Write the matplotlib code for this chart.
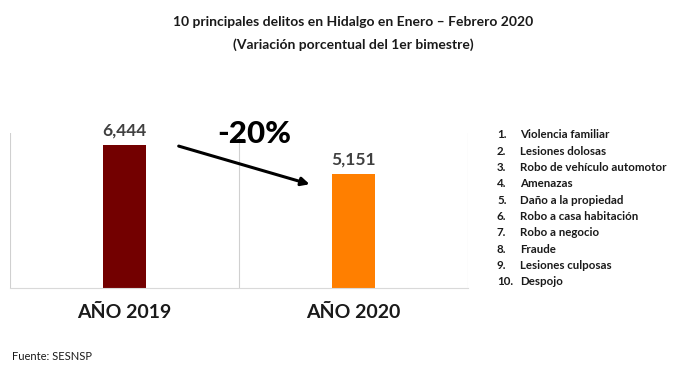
import matplotlib
matplotlib.use("Agg")
import matplotlib.pyplot as plt

anios = ["AÑO 2019", "AÑO 2020"]
totales = [6444, 5151]
colores = ["#730000", "#FF7F00"]
variacion = "-20%"
delitos = ["Violencia familiar", "Lesiones dolosas", "Robo de vehículo automotor",
           "Amenazas", "Daño a la propiedad", "Robo a casa habitación",
           "Robo a negocio", "Fraude", "Lesiones culposas", "Despojo"]

plt.rcParams['font.family'] = ['Lato', 'DejaVu Sans']

fig = plt.figure(figsize=(6.78, 3.81), dpi=100)
ax = fig.add_axes([10/678, 93/381, 458/678, 155/381])

x = range(len(anios))
ax.bar(x, totales, width=0.19, color=colores)
ax.set_xlim(-0.5, len(anios) - 0.5)
ax.set_ylim(0, 7000)

# separadores de categoria estilo excel
for xv in [-0.5, 0.5, 1.5]:
    ax.axvline(xv, color="#d0d0d0", lw=0.8)
for s in ["top", "left", "right"]:
    ax.spines[s].set_visible(False)
ax.spines["bottom"].set_color("#d9d9d9")
ax.set_yticks([])
ax.set_xticks([])

for i, v in enumerate(totales):
    ax.text(i, v + 300, f"{v:,}", ha="center", va="bottom", fontsize=12.5,
            fontweight="bold", color="#404040")
    ax.text(i, -700, anios[i], ha="center", va="top", fontsize=14,
            fontweight="bold", color="#1a1a1a")

ax.annotate("", xy=(0.82, totales[1] - 500), xytext=(0.225, totales[0]),
            arrowprops=dict(arrowstyle="-|>", color="black", lw=2.2,
                            mutation_scale=12))
ax.text(0.565, 6950, variacion, ha="center", va="center", fontsize=22.5,
        fontweight="black", color="black")

fig.text(0.521, 0.942, "10 principales delitos en Hidalgo en Enero – Febrero 2020",
         ha="center", va="center", fontsize=10, fontweight="bold", color="#1a1a1a")
fig.text(0.521, 0.882, "(Variación porcentual del 1er bimestre)",
         ha="center", va="center", fontsize=10, fontweight="bold", color="#1a1a1a")

y0 = 381 - 135
for i, d in enumerate(delitos):
    yy = (y0 - i * 16.3) / 381
    fig.text(497/678, yy, f"{i + 1}.", ha="left", va="center", fontsize=8.3,
             fontweight="bold", color="#1a1a1a")
    fig.text(520/678, yy, d, ha="left", va="center", fontsize=8.3,
             fontweight="bold", color="#1a1a1a")

fig.text(12/678, 1 - 357/381, "Fuente: SESNSP", ha="left", va="center",
         fontsize=8, color="#1a1a1a")

fig.savefig("out.png", dpi=100, facecolor="white")
